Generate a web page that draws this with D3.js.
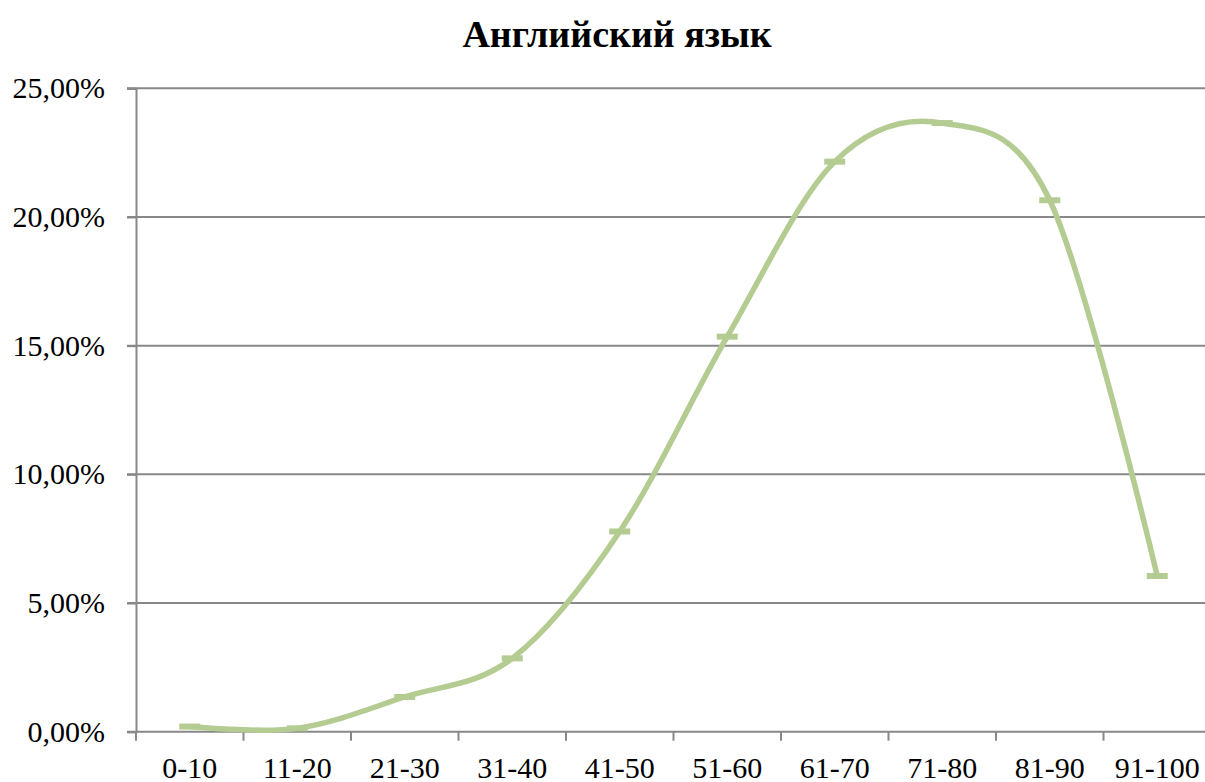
<!DOCTYPE html>
<html>
<head>
<meta charset="utf-8">
<script src="https://cdn.jsdelivr.net/npm/d3@7"></script>
<style>
  body { margin: 0; background: #fff; }
  svg { display: block; }
  svg text { font-family: "Liberation Serif", "Times New Roman", "DejaVu Serif", serif !important; fill: #000; }
</style>
</head>
<body>
<svg id="chart" width="1205" height="782"></svg>
<script>
// data (percent of students per score band)
const title = "Английский язык";
const bands = ["0-10", "11-20", "21-30", "31-40", "41-50", "51-60", "61-70", "71-80", "81-90", "91-100"];
const shares = [0.20, 0.13, 1.35, 2.85, 7.78, 15.35, 22.15, 23.65, 20.65, 6.05];
const yTicks = [0, 5, 10, 15, 20, 25];

const svg = d3.select("#chart");
const plotLeft = 136, plotRight = 1211, plotTop = 88.3, plotBottom = 731.7;
const serif = '"Liberation Serif", "Times New Roman", serif';

let x = d3.scaleBand().domain(bands).range([plotLeft, plotRight]);
let y = d3.scaleLinear().domain([0, 25]).range([plotBottom, plotTop]);

// gridlines
svg.append("g")
  .selectAll("line")
  .data(yTicks.filter(d => d > 0))
  .enter().append("line")
  .attr("x1", plotLeft - 9).attr("x2", 1205)
  .attr("y1", d => y(d)).attr("y2", d => y(d))
  .attr("stroke", "#888").attr("stroke-width", 2);

// y axis
let yAxis = svg.append("g")
  .attr("transform", `translate(${plotLeft},0)`)
  .call(d3.axisLeft(y).tickValues(yTicks).tickSize(9).tickPadding(22)
    .tickFormat(d => d3.format(".2f")(d).replace(".", ",") + "%"));
yAxis.attr("font-family", serif);
yAxis.select(".domain").attr("stroke", "#888").attr("stroke-width", 2);
yAxis.selectAll(".tick line").attr("stroke", "#888").attr("stroke-width", 2);
yAxis.selectAll("text").style("font-size", "30px").attr("fill", "#000");

// x axis
let xAxis = svg.append("g")
  .attr("transform", `translate(0,${plotBottom})`)
  .call(d3.axisBottom(x).tickSize(0).tickPadding(0));
xAxis.attr("font-family", serif);
xAxis.select(".domain").remove();
xAxis.selectAll("text").style("font-size", "30px")
  .attr("fill", "#000").attr("dy", 0).attr("y", 46);
svg.append("line")
  .attr("x1", plotLeft - 9).attr("x2", 1205).attr("y1", plotBottom).attr("y2", plotBottom)
  .attr("stroke", "#888").attr("stroke-width", 2);
svg.append("g")
  .selectAll("line")
  .data(d3.range(bands.length + 1))
  .enter().append("line")
  .attr("x1", i => plotLeft + i * x.bandwidth()).attr("x2", i => plotLeft + i * x.bandwidth())
  .attr("y1", plotBottom).attr("y2", plotBottom + 9)
  .attr("stroke", "#888").attr("stroke-width", 2);

// smoothed line
let line = d3.line()
  .x((d, i) => x(bands[i]) + x.bandwidth() / 2)
  .y(d => y(d))
  .curve(d3.curveCardinal.tension(0));

svg.append("path")
  .datum(shares)
  .attr("d", line)
  .attr("fill", "none")
  .attr("stroke", "#b4cc92")
  .attr("stroke-width", 5.5);

// dash markers
svg.append("g")
  .selectAll("rect")
  .data(shares)
  .enter().append("rect")
  .attr("x", (d, i) => x(bands[i]) + x.bandwidth() / 2 - 10.5)
  .attr("y", d => y(d) - 3)
  .attr("width", 21).attr("height", 6)
  .attr("fill", "#b4cc92");

// title
svg.append("text")
  .attr("x", 617).attr("y", 47)
  .attr("text-anchor", "middle")
  .style("font-size", "38px").style("font-weight", "bold")
  .text(title);
</script>
</body>
</html>
